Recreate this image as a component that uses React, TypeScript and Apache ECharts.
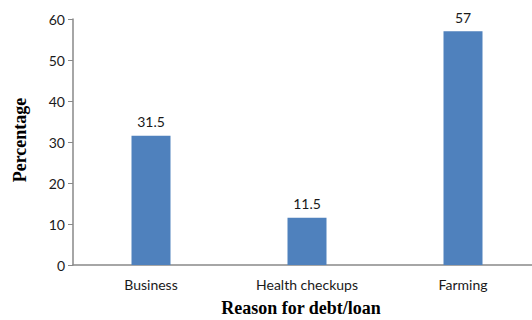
import React, { useEffect, useRef } from "react";
import * as echarts from "echarts";

const categories = ["Business", "Health checkups", "Farming"];
const values = [31.5, 11.5, 57];
const yTicks = [0, 10, 20, 30, 40, 50, 60];
const xTitle = "Reason for debt/loan";
const yTitle = "Percentage";

export default function App() {
  const ref = useRef<HTMLDivElement>(null);
  useEffect(() => {
    if (!ref.current) return;
    const chart = echarts.init(ref.current, undefined, { renderer: "svg" });
    chart.setOption({
      animation: false,
      backgroundColor: "#ffffff",
      grid: {
        left: 73,
        top: 19,
        width: 468,
        height: 246,
        containLabel: false,
        outerBoundsMode: "none",
      },
      xAxis: {
        type: "category",
        data: categories,
        axisLine: { lineStyle: { color: "#898989", width: 1.5 } },
        axisTick: { show: false },
        axisLabel: { color: "#1a1a1a", fontFamily: "Lato", fontSize: 14, margin: 12 },
      },
      yAxis: {
        type: "value",
        min: yTicks[0],
        max: yTicks[yTicks.length - 1],
        interval: 10,
        axisLine: { show: true, lineStyle: { color: "#898989", width: 1.5 } },
        axisTick: { show: true, length: 5, lineStyle: { color: "#898989" } },
        splitLine: { show: false },
        axisLabel: { color: "#1a1a1a", fontFamily: "Lato", fontSize: 14, margin: 8 },
      },
      series: [
        {
          type: "bar",
          data: values,
          barWidth: 39,
          itemStyle: { color: "#4F81BD" },
          label: {
            show: true,
            position: "top",
            distance: 7,
            color: "#1a1a1a",
            fontFamily: "Lato",
            fontSize: 14,
          },
        },
      ],
      graphic: [
        {
          type: "text",
          x: 20,
          y: 140,
          rotation: Math.PI / 2,
          style: {
            text: yTitle,
            font: "bold 18px 'Liberation Serif'",
            fill: "#000",
            textAlign: "center",
            textVerticalAlign: "middle",
          },
        },
        {
          type: "text",
          x: 301,
          y: 308,
          style: {
            text: xTitle,
            font: "bold 18px 'Liberation Serif'",
            fill: "#000",
            textAlign: "center",
            textVerticalAlign: "middle",
          },
        },
      ],
    });
    return () => chart.dispose();
  }, []);
  return (
    <div
      ref={ref}
      style={{ position: "fixed", left: 0, top: 0, width: 532, height: 320 }}
    />
  );
}
